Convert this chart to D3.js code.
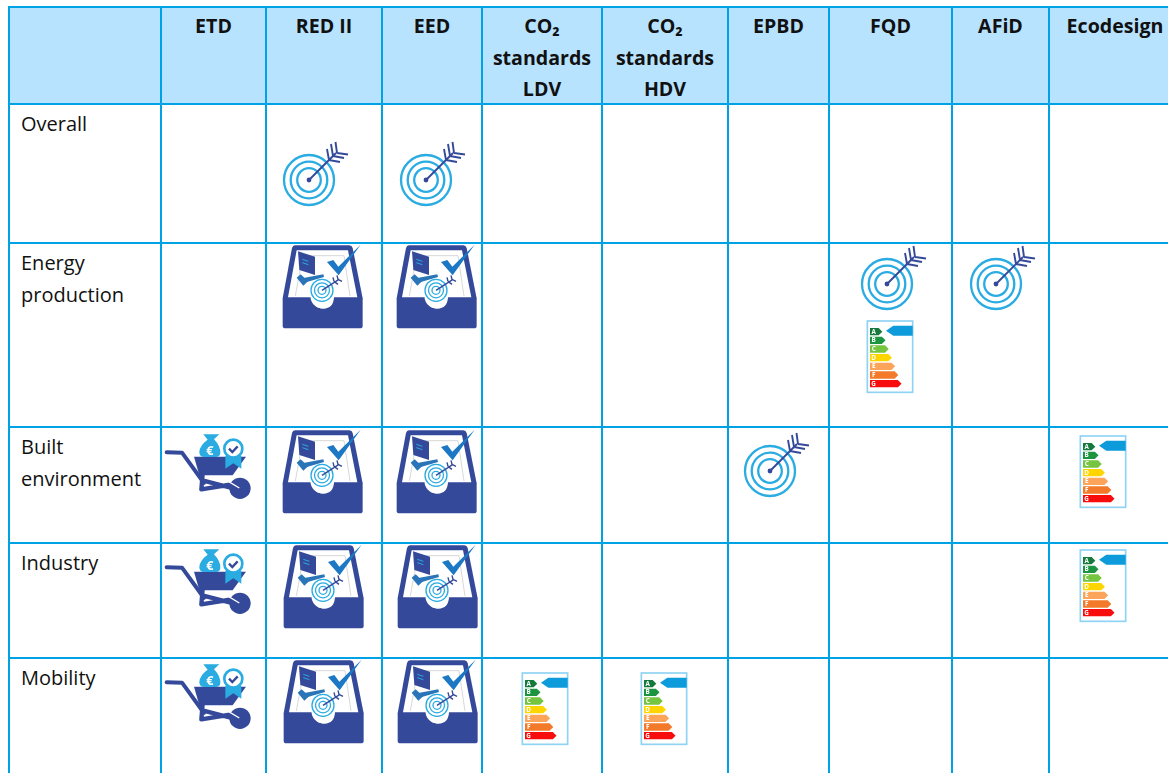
<!DOCTYPE html>
<html>
<head>
<meta charset="utf-8">
<script src="https://d3js.org/d3.v7.min.js"></script>
<style>
  body { margin:0; background:#fff; }
  svg { display:block; }
  text { font-family:"Open Sans", sans-serif; font-size:20px; fill:#111; }
  .head { font-weight:700; text-anchor:middle; font-size:19.6px; }
</style>
</head>
<body>
<div id="chart"></div>
<script>
const columns = ["Sector", "ETD", "RED II", "EED", "CO2 LDV", "CO2 HDV", "EPBD", "FQD", "AFiD", "Ecodesign"];
const columnLabels = [[], ["ETD"], ["RED II"], ["EED"], ["CO₂", "standards", "LDV"], ["CO₂", "standards", "HDV"], ["EPBD"], ["FQD"], ["AFiD"], ["Ecodesign"]];
const rows = ["Header", "Overall", "Energy", "Built", "Industry", "Mobility"];
const rowLabels = [[], ["Overall"], ["Energy", "production"], ["Built", "environment"], ["Industry"], ["Mobility"]];

// which instrument is used where
const cellIcons = [
  ["Overall", "RED II", "target"], ["Overall", "EED", "target"],
  ["Energy", "RED II", "tray"], ["Energy", "EED", "tray"], ["Energy", "FQD", "target"], ["Energy", "FQD", "label"], ["Energy", "AFiD", "target"],
  ["Built", "ETD", "barrow"], ["Built", "RED II", "tray"], ["Built", "EED", "tray"], ["Built", "EPBD", "target"], ["Built", "Ecodesign", "label"],
  ["Industry", "ETD", "barrow"], ["Industry", "RED II", "tray"], ["Industry", "EED", "tray"], ["Industry", "Ecodesign", "label"],
  ["Mobility", "ETD", "barrow"], ["Mobility", "RED II", "tray"], ["Mobility", "EED", "tray"], ["Mobility", "CO2 LDV", "label"], ["Mobility", "CO2 HDV", "label"]
];

const W = 1168, H = 773;
const lineCol = "#00A2E6", headFill = "#B8E3FF";
const navy = "#354A9A", sky = "#29ABE2";

const x = d3.scaleOrdinal().domain(columns).range([9, 161, 266, 382, 482, 602, 728, 829, 952, 1049]);
const y = d3.scaleOrdinal().domain(rows).range([7, 104, 243, 427, 543, 658]);
const right = c => { const i = columns.indexOf(c); return i < columns.length - 1 ? x(columns[i + 1]) : 1181; };

const svg = d3.select("#chart").append("svg").attr("width", W).attr("height", H);
const defs = svg.append("defs");
// the pictures in the original are small bitmaps, a touch soft
defs.append("filter").attr("id", "soft").attr("x", "-5%").attr("y", "-5%").attr("width", "110%").attr("height", "110%")
  .append("feGaussianBlur").attr("stdDeviation", 0.35);

// ---- icon glyphs ----
const target = defs.append("g").attr("id", "target");
[25, 18.3, 11.8].forEach(r => target.append("circle").attr("r", r).attr("fill", "none").attr("stroke", sky).attr("stroke-width", 2.3));
target.append("circle").attr("r", 2.4).attr("fill", navy);
target.append("path").attr("fill", "none").attr("stroke", navy).attr("stroke-width", 1.9)
  .attr("d", "M0,0L27,-27M20,-20L18,-31M20,-20L31,-18M24,-24L22,-36M24,-24L35,-22M28,-27L26.5,-38M28,-27L39,-25.5");

const tray = defs.append("g").attr("id", "tray").attr("transform", "scale(0.3333)");
tray.append("path").attr("fill", navy)
  .attr("d", "M75,16L238,16Q246,16 248,24L278,175L278,258Q278,265 270,265L46,265Q38,265 38,258L38,175L66,24Q68,16 75,16Z");
tray.append("path").attr("fill", "#fff").attr("d", "M80,31L234,31L262,172L192,172Q190,206 160,206Q130,206 128,172L54,172Z");
tray.append("path").attr("fill", "none").attr("stroke", "#c4c4c4").attr("stroke-width", 2).attr("d", "M98,47L222,47L240,168M98,47L76,168");
tray.append("path").attr("fill", navy).attr("d", "M84,34L135,50L135,105L88,90Z");
tray.append("path").attr("fill", "none").attr("stroke", sky).attr("stroke-width", 3).attr("d", "M97,58L115,64M97,68L115,74");
tray.append("path").attr("fill", "#1B78C4").attr("d", "M171,66L190,60L205,80L272,14L206,106Z");
tray.append("path").attr("fill", "#2A74B8").attr("d", "M80,113L92,103L114,124L100,137Z");
tray.append("path").attr("fill", "#2A74B8").attr("d", "M100,114L160,103L162,111L108,127Z");
const trayRings = tray.append("g").attr("transform", "translate(156,151) scale(3)");
trayRings.append("ellipse").attr("cx", 0).attr("cy", 6).attr("rx", 11.5).attr("ry", 12).attr("fill", "#fff");
[11, 7.5, 4].forEach(r => trayRings.append("circle").attr("r", r).attr("fill", "none").attr("stroke", sky).attr("stroke-width", 1.3));
trayRings.append("path").attr("fill", "none").attr("stroke", navy).attr("stroke-width", 1.4)
  .attr("d", "M0,0L17,-11M12,-9L11,-13M12,-9L16,-6M16,-11L15,-15M16,-11L20,-9");

const barrow = defs.append("g").attr("id", "barrow").attr("transform", "scale(0.3333)");
barrow.append("path").attr("fill", "none").attr("stroke", navy).attr("stroke-width", 12).attr("stroke-linecap", "round").attr("stroke-linejoin", "round")
  .attr("d", "M20,73L66,74L132,165");
barrow.append("path").attr("fill", navy).attr("d", "M102,86L258,86L218,142L118,142Z");
barrow.append("path").attr("fill", "none").attr("stroke", navy).attr("stroke-width", 13).attr("stroke-linejoin", "round")
  .attr("d", "M128,138L124,184L222,168M130,158L232,184");
barrow.append("circle").attr("cx", 240).attr("cy", 181).attr("r", 32).attr("fill", navy);
barrow.append("path").attr("fill", "none").attr("stroke", "#fff").attr("stroke-width", 4).attr("d", "M205,160L238,180");
barrow.append("path").attr("fill", sky).attr("d", "M130,19L178,19L162,34Q182,55 181,75Q180,87 167,87L133,87Q118,87 118,72Q120,50 143,35Z");
barrow.append("text").attr("x", 150).attr("y", 81).attr("text-anchor", "middle").style("fill", "#fff").style("font-size", "38px").style("font-weight", "700").text("€");
barrow.append("path").attr("fill", sky).attr("d", "M196,84L196,122L220,106L244,122L244,84Z");
barrow.append("circle").attr("cx", 220).attr("cy", 62).attr("r", 27).attr("fill", "#fff").attr("stroke", sky).attr("stroke-width", 8);
barrow.append("path").attr("fill", "none").attr("stroke", navy).attr("stroke-width", 7).attr("d", "M207,62L217,72L233,55");

const label = defs.append("g").attr("id", "label").attr("transform", "scale(0.3333)");
label.append("rect").attr("x", 22).attr("y", 18).attr("width", 136).attr("height", 214).attr("fill", "#fff").attr("stroke", "#8FD3F4").attr("stroke-width", 5);
const gradeColors = ["#14793A", "#1C9440", "#76C540", "#FFD500", "#FBA45A", "#F37A2B", "#F80808"];
["A", "B", "C", "D", "E", "F", "G"].forEach((g, i) => {
  const top = 39 + i * 26, end = 56 + i * 9.6;
  label.append("path").attr("fill", gradeColors[i]).attr("d", `M30,${top}L${end},${top}L${end + 11},${top + 11}L${end},${top + 22}L30,${top + 22}Z`);
  label.append("text").attr("x", 41).attr("y", top + 17).attr("text-anchor", "middle").style("fill", "#fff").style("font-size", "19px").style("font-weight", "700").text(g);
});
label.append("path").attr("fill", "#0A9BDC").attr("d", "M78,47L100,32L158,32L158,62L100,62Z");

// ---- table ----
svg.append("rect").attr("x", x("Sector")).attr("y", y("Header")).attr("width", W).attr("height", y("Overall") - y("Header")).attr("fill", headFill);

const gridV = svg.append("g").attr("stroke", lineCol).attr("stroke-width", 2);
gridV.selectAll("line").data(columns).join("line")
  .attr("x1", d => x(d)).attr("x2", d => x(d)).attr("y1", y("Header") - 1).attr("y2", H);
const gridH = svg.append("g").attr("stroke", lineCol).attr("stroke-width", 2);
gridH.selectAll("line").data(rows).join("line")
  .attr("x1", x("Sector") - 1).attr("x2", W).attr("y1", d => y(d)).attr("y2", d => y(d));

// header text, three possible lines
const lineStep = 31.5;
columns.forEach((c, i) => {
  columnLabels[i].forEach((t, j) => {
    svg.append("text").attr("class", "head")
      .attr("x", (x(c) + right(c)) / 2).attr("y", y("Header") + 26 + j * lineStep).text(t);
  });
});
rows.forEach((r, i) => {
  rowLabels[i].forEach((t, j) => {
    svg.append("text").attr("x", x("Sector") + 12).attr("y", y(r) + 27 + j * lineStep).text(t);
  });
});

// ---- icons: where the pictures sit inside their cells ----
const baseOffset = { target: [44, 41], tray: [4, -3], barrow: [-1, 0], label: [32, 9] };
const nudges = {
  "Overall|RED II|target": [-1, 35], "Overall|EED|target": [0, 35],
  "Energy|FQD|target": [14, 0], "Built|EPBD|target": [-2, 3],
  "Energy|FQD|label": [-1, 63], "Built|Ecodesign|label": [-8, -6], "Industry|Ecodesign|label": [-8, -8],
  "Mobility|CO2 LDV|label": [1, 0],
  "Energy|EED|tray": [-2, 0], "Built|EED|tray": [-2, 1], "Industry|EED|tray": [-1, 0], "Mobility|EED|tray": [-1, 0],
  "Built|RED II|tray": [0, 1], "Industry|RED II|tray": [1, 0], "Mobility|RED II|tray": [1, 0],
  "Built|ETD|barrow": [0, 1]
};
svg.append("g").selectAll("use").data(cellIcons).join("use")
  .attr("href", d => "#" + d[2])
  .attr("filter", "url(#soft)")
  .attr("transform", d => {
    const base = baseOffset[d[2]], n = nudges[d.join("|")] || [0, 0];
    return `translate(${x(d[1]) + base[0] + n[0]},${y(d[0]) + base[1] + n[1]})`;
  });
</script>
</body>
</html>
